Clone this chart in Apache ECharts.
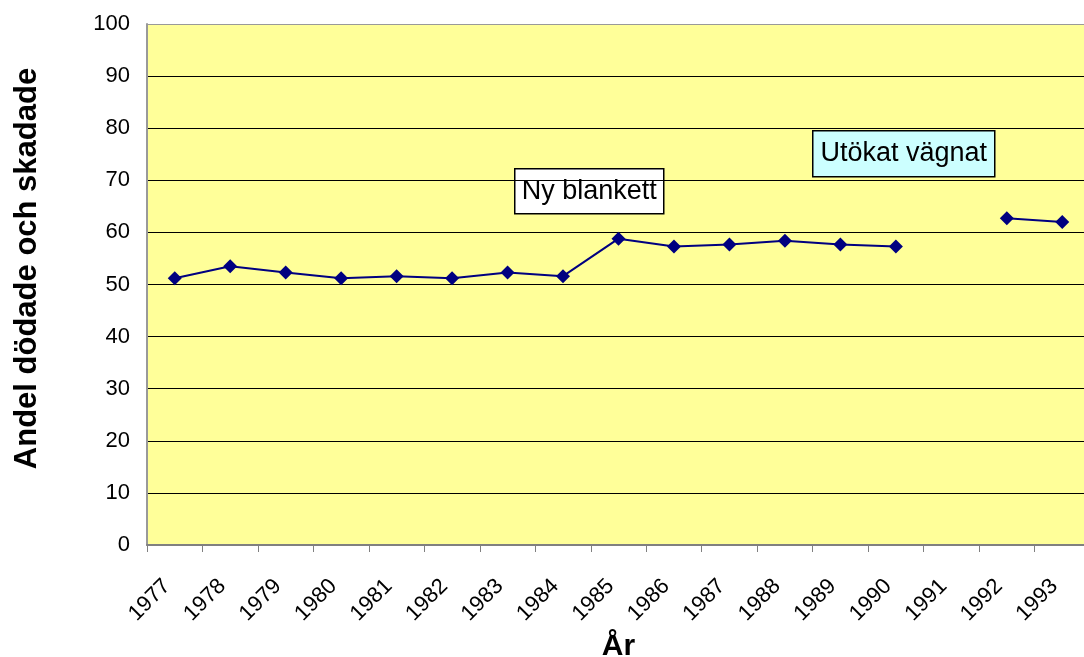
<!DOCTYPE html>
<html>
<head>
<meta charset="utf-8">
<script src="https://cdn.jsdelivr.net/npm/echarts@6/dist/echarts.min.js"></script>
<style>
  html, body { margin: 0; padding: 0; background: #fff; }
  #chart { width: 1084px; height: 657px; }
</style>
</head>
<body>
<div id="chart"></div>
<script>
  var years = ['1977', '1978', '1979', '1980', '1981', '1982', '1983', '1984', '1985',
    '1986', '1987', '1988', '1989', '1990', '1991', '1992', '1993'];
  // andel dödade och skadade, 1991 saknas
  var andel = [51.2, 53.5, 52.3, 51.2, 51.6, 51.2, 52.3, 51.6, 58.8,
    57.3, 57.7, 58.4, 57.7, 57.3, null, 62.7, 62.0];
  var yTicks = { min: 0, max: 100, interval: 10 };

  var fontFam = '"Liberation Sans", Arial, sans-serif';
  var navy = '#000080';

  var chart = echarts.init(document.getElementById('chart'));

  // splitLine colours, the top one is the grey plot border
  var splitColors = [];
  for (var i = 0; i <= 10; i++) {
    splitColors.push(i === 10 ? '#999999' : '#000000');
  }

  chart.setOption({
    backgroundColor: '#ffffff',
    animation: false,
    grid: {
      left: 147,
      right: -6,
      top: 24,
      bottom: 112,
      show: true,
      backgroundColor: '#FFFF99',
      borderWidth: 0,
      outerBoundsMode: 'none'
    },
    xAxis: {
      type: 'category',
      data: years,
      boundaryGap: true,
      name: 'År',
      nameLocation: 'middle',
      nameGap: 82,
      nameTextStyle: {
        fontFamily: fontFam,
        fontSize: 30,
        fontWeight: 'bold',
        color: '#000'
      },
      axisLine: {
        lineStyle: { color: '#808080', width: 2 }
      },
      axisTick: {
        show: true,
        interval: 0,
        length: 7,
        lineStyle: { color: '#808080', width: 1 }
      },
      axisLabel: {
        interval: 0,
        rotate: 45,
        margin: 30,
        padding: [0, 11, 0, 0],
        fontFamily: fontFam,
        fontSize: 22,
        color: '#000'
      },
      splitLine: { show: false }
    },
    yAxis: {
      type: 'value',
      min: yTicks.min,
      max: yTicks.max,
      interval: yTicks.interval,
      name: 'Andel dödade och skadade',
      nameLocation: 'middle',
      nameRotate: 90,
      nameGap: 104,
      nameTextStyle: {
        fontFamily: fontFam,
        fontSize: 31,
        fontWeight: 'bold',
        color: '#000',
        padding: [0, 0, 0, 32]
      },
      axisLine: {
        show: true,
        lineStyle: { color: '#999999', width: 2 }
      },
      axisTick: { show: false },
      axisLabel: {
        margin: 17,
        fontFamily: fontFam,
        fontSize: 22,
        color: '#000'
      },
      splitLine: {
        show: true,
        lineStyle: { color: splitColors, width: 1 }
      }
    },
    series: [{
      name: 'Andel',
      type: 'line',
      data: andel,
      connectNulls: false,
      symbol: 'diamond',
      symbolSize: 14,
      itemStyle: { color: navy },
      lineStyle: { color: navy, width: 2 },
      z: 5
    }],
    graphic: [
      {
        type: 'group',
        left: 514,
        top: 168,
        z: 10,
        children: [
          {
            type: 'rect',
            shape: { x: 0, y: 0, width: 149, height: 45 },
            style: { fill: '#ffffff', stroke: '#000', lineWidth: 1.5 }
          },
          {
            type: 'text',
            x: 74.5,
            y: 23,
            style: {
              text: 'Ny blankett',
              font: '27px ' + fontFam,
              fill: '#000',
              textAlign: 'center',
              textVerticalAlign: 'middle'
            }
          }
        ]
      },
      {
        type: 'group',
        left: 812,
        top: 130,
        z: 10,
        children: [
          {
            type: 'rect',
            shape: { x: 0, y: 0, width: 182, height: 46 },
            style: { fill: '#CCFFFF', stroke: '#000', lineWidth: 1.5 }
          },
          {
            type: 'text',
            x: 91,
            y: 23,
            style: {
              text: 'Utökat vägnat',
              font: '27px ' + fontFam,
              fill: '#000',
              textAlign: 'center',
              textVerticalAlign: 'middle'
            }
          }
        ]
      }
    ]
  });
</script>
</body>
</html>
